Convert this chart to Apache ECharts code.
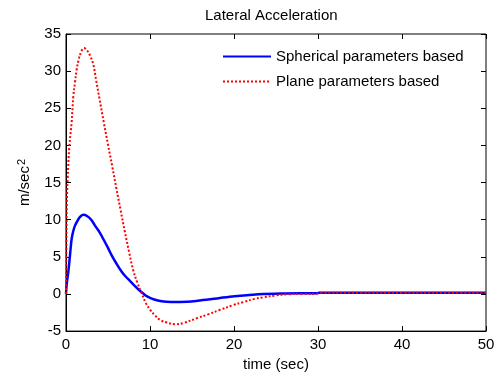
<!DOCTYPE html>
<html>
<head>
<meta charset="utf-8">
<script src="https://cdn.jsdelivr.net/npm/echarts@6/dist/echarts.min.js"></script>
<style>html,body{margin:0;padding:0;background:#fff}#c{width:499px;height:377px}</style>
</head>
<body>
<div id="c"></div>
<script>
var titleText = 'Lateral Acceleration';
var xName = 'time (sec)';
var seriesNames = ['Spherical parameters based', 'Plane parameters based'];
var xTicks = [0, 10, 20, 30, 40, 50];
var yTicks = [-5, 0, 5, 10, 15, 20, 25, 30, 35];

var tBlue = [0, 0.1, 0.28, 0.5, 0.67, 0.85, 1.07, 1.4, 1.7, 2.06, 2.5, 3.0, 3.45, 4.0, 4.44, 5.0, 5.44, 6.0, 6.63, 7.1, 7.62, 8.0, 8.73, 9.2, 9.6, 10.5, 11.6, 12.5, 14.4, 15.5, 16.3, 18.0, 19.5, 21.5, 23.5, 25.5, 27.9, 29.8, 30.1, 35, 40, 45, 50];
var vBlue = [0, 1.5, 3.0, 5.5, 7.4, 8.4, 9.2, 9.9, 10.4, 10.65, 10.5, 10.0, 9.2, 8.3, 7.4, 6.2, 5.2, 4.1, 3.0, 2.35, 1.75, 1.3, 0.5, 0.05, -0.3, -0.75, -1.03, -1.08, -1.05, -0.95, -0.8, -0.6, -0.36, -0.18, 0.0, 0.05, 0.08, 0.08, 0.15, 0.15, 0.15, 0.15, 0.15];

var tRed = [0, 0.05, 0.1, 0.2, 0.4, 0.67, 0.87, 1.07, 1.27, 1.5, 1.8, 2.14, 2.5, 2.9, 3.25, 3.6, 4.0, 4.5, 5.0, 5.5, 6.0, 6.5, 7.0, 7.5, 8.0, 8.5, 9.0, 9.5, 10.0, 10.6, 11.2, 12.0, 13.0, 14.0, 15.6, 16.9, 18.3, 19.9, 21.1, 22.5, 23.5, 25.0, 26.3, 28.0, 29.8, 30.1, 35, 40, 45, 50];
var vRed = [0, 7, 12, 15.5, 19.9, 23.1, 26.6, 28.5, 30.2, 31.5, 32.6, 33.1, 32.8, 32.0, 30.9, 28.7, 26.2, 23.1, 20.1, 17.2, 14.2, 11.3, 8.4, 5.7, 3.2, 1.5, 0.1, -1.2, -2.1, -2.9, -3.5, -3.85, -4.08, -3.9, -3.26, -2.75, -2.15, -1.5, -1.1, -0.65, -0.45, -0.2, -0.05, 0, 0, 0.15, 0.15, 0.15, 0.15, 0.15];

function pairs(t, v) { return t.map(function (x, i) { return [x, v[i]]; }); }

var FF = 'Liberation Sans, Arial, sans-serif';
var chart = echarts.init(document.getElementById('c'), null, {renderer: 'canvas'});
var xMin = xTicks[0], xMax = xTicks[xTicks.length - 1], xInt = xTicks[1] - xTicks[0];
var yMin = yTicks[0], yMax = yTicks[yTicks.length - 1], yInt = yTicks[1] - yTicks[0];

function xAx(pos, labels) {
  return {
    type: 'value', position: pos, min: xMin, max: xMax, interval: xInt,
    axisLine: {show: labels, onZero: false, lineStyle: {color: '#000', width: 1}},
    axisTick: {show: true, inside: true, length: 5, lineStyle: {color: '#000'}},
    axisLabel: {show: labels, color: '#000', fontSize: 15, fontFamily: FF, margin: 6},
    splitLine: {show: false},
    name: labels ? xName : '', nameLocation: 'middle', nameGap: 24,
    nameTextStyle: {color: '#000', fontSize: 15, fontFamily: FF}
  };
}
function yAx(pos, labels) {
  return {
    type: 'value', position: pos, min: yMin, max: yMax, interval: yInt,
    axisLine: {show: labels, onZero: false, lineStyle: {color: '#000', width: 1}},
    axisTick: {show: true, inside: true, length: 5, lineStyle: {color: '#000'}},
    axisLabel: {show: labels, color: '#000', fontSize: 15, fontFamily: FF, margin: 5},
    splitLine: {show: false},
    name: labels ? '{a|m/sec}{s|2}' : '', nameLocation: 'middle', nameGap: 33,
    nameTextStyle: {color: '#000', fontSize: 15, fontFamily: FF,
      rich: {a: {fontSize: 15, fontFamily: FF, color: '#000'},
             s: {fontSize: 11, fontFamily: FF, color: '#000', verticalAlign: 'top', padding: [0, 0, 6, 1]}}}
  };
}

chart.setOption({
  backgroundColor: '#fff',
  animation: false,
  title: {text: titleText, left: 205, top: 8, padding: 0,
    textStyle: {fontSize: 15, fontWeight: 'normal', color: '#000', fontFamily: FF}},
  grid: {left: 66, right: 13, top: 34, bottom: 44, show: true, borderColor: '#000', borderWidth: 1, backgroundColor: '#fff'},
  legend: {
    orient: 'vertical', left: 222, top: 49, padding: 0, itemWidth: 48, itemHeight: 14, itemGap: 10,
    itemStyle: {opacity: 0, borderWidth: 0},
    textStyle: {fontSize: 15, color: '#000', fontFamily: FF},
    data: seriesNames
  },
  xAxis: [xAx('bottom', true), xAx('top', false)],
  yAxis: [yAx('left', true), yAx('right', false)],
  series: [
    {name: seriesNames[0], type: 'line', showSymbol: false, symbol: 'none', smooth: 0.4,
     data: pairs(tBlue, vBlue), lineStyle: {color: '#0000ff', width: 2.5}, itemStyle: {color: '#0000ff'}, z: 3},
    {name: seriesNames[1], type: 'line', showSymbol: false, symbol: 'none', smooth: 0.4,
     data: pairs(tRed, vRed), lineStyle: {color: '#ff0000', width: 2, type: 'dotted'}, itemStyle: {color: '#ff0000'}, z: 4}
  ]
});
</script>
</body>
</html>
